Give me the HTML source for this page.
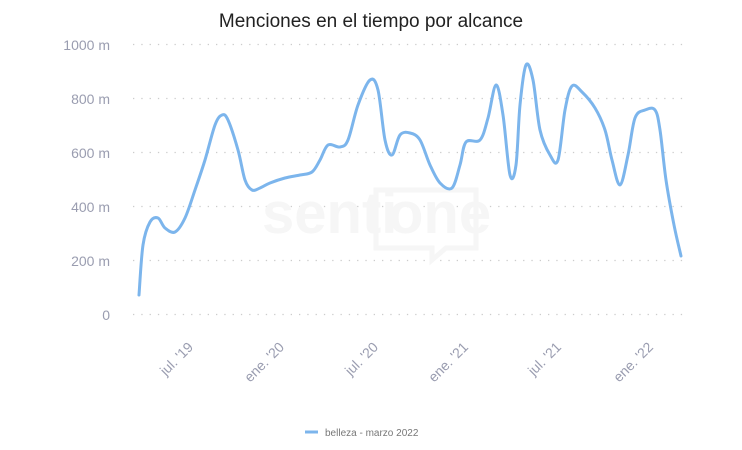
<!DOCTYPE html>
<html><head><meta charset="utf-8"><style>
body{margin:0;background:#fff;}
svg{display:block;font-family:"Liberation Sans",sans-serif;}
</style></head><body>
<svg width="742" height="450" viewBox="0 0 742 450">
<text x="371" y="27" text-anchor="middle" font-size="19" fill="#222">Menciones en el tiempo por alcance</text>
<g stroke="#ccc" stroke-width="1.3" stroke-dasharray="1.3 7">
<line x1="133" x2="686" y1="44.5" y2="44.5"/><line x1="133" x2="686" y1="98.5" y2="98.5"/>
<line x1="133" x2="686" y1="152.5" y2="152.5"/><line x1="133" x2="686" y1="206.5" y2="206.5"/>
<line x1="133" x2="686" y1="260.5" y2="260.5"/><line x1="133" x2="686" y1="314.5" y2="314.5"/>
</g>
<g font-size="14" fill="#9a9db0" text-anchor="end">
<text x="110" y="50">1000 m</text><text x="110" y="104">800 m</text><text x="110" y="158">600 m</text>
<text x="110" y="212">400 m</text><text x="110" y="266">200 m</text><text x="110" y="320">0</text>
</g>
<g font-size="58" fill="#f6f6f6" font-weight="bold"><text x="262" y="233">senti</text><text x="388" y="233">one</text></g>
<path d="M376 190 h100 v58 h-30 l-14 12 v-12 h-56z" fill="none" stroke="#f6f6f6" stroke-width="5"/>
<g font-size="14" fill="#9a9db0" text-anchor="end">
<text transform="translate(194,348) rotate(-45)">jul. '19</text>
<text transform="translate(285,348) rotate(-45)">ene. '20</text>
<text transform="translate(379,348) rotate(-45)">jul. '20</text>
<text transform="translate(469,348) rotate(-45)">ene. '21</text>
<text transform="translate(562,348) rotate(-45)">jul. '21</text>
<text transform="translate(654,348) rotate(-45)">ene. '22</text>
</g>
<path id="s" fill="none" stroke="#7cb5ec" stroke-width="3" stroke-linejoin="round" stroke-linecap="round"/>
<line x1="305" x2="318" y1="432" y2="432" stroke="#7cb5ec" stroke-width="3"/>
<text x="325" y="436" font-size="10" fill="#777">belleza - marzo 2022</text>
</svg>
<script>
var p=[[139,295],[143,245],[150,222],[158,218],[165,228],[175,232],[185,218],[195,190],[205,160],[215,125],[222,115],[228,120],[238,150],[245,180],[252,190],[260,188],[270,183],[285,178],[300,175],[312,172],[320,160],[328,145],[340,147],[348,140],[358,105],[370,80],[378,90],[385,140],[392,155],[400,135],[410,133],[420,140],[430,165],[440,183],[452,188],[460,165],[466,142],[480,140],[488,118],[496,85],[503,115],[510,175],[516,165],[520,105],[526,65],[533,80],[540,130],[550,155],[558,160],[565,110],[572,86],[582,92],[595,108],[605,130],[612,160],[620,185],[628,155],[635,118],[645,110],[655,110],[660,130],[666,180],[674,225],[681,256]];
var d="M"+p[0];
for(var i=0;i<p.length-1;i++){var a=p[i-1]||p[i],b=p[i],c=p[i+1],e=p[i+2]||c;
d+=" C"+(b[0]+(c[0]-a[0])/6)+","+(b[1]+(c[1]-a[1])/6)+" "+(c[0]-(e[0]-b[0])/6)+","+(c[1]-(e[1]-b[1])/6)+" "+c;}
document.getElementById("s").setAttribute("d",d);
</script>
</body></html>
